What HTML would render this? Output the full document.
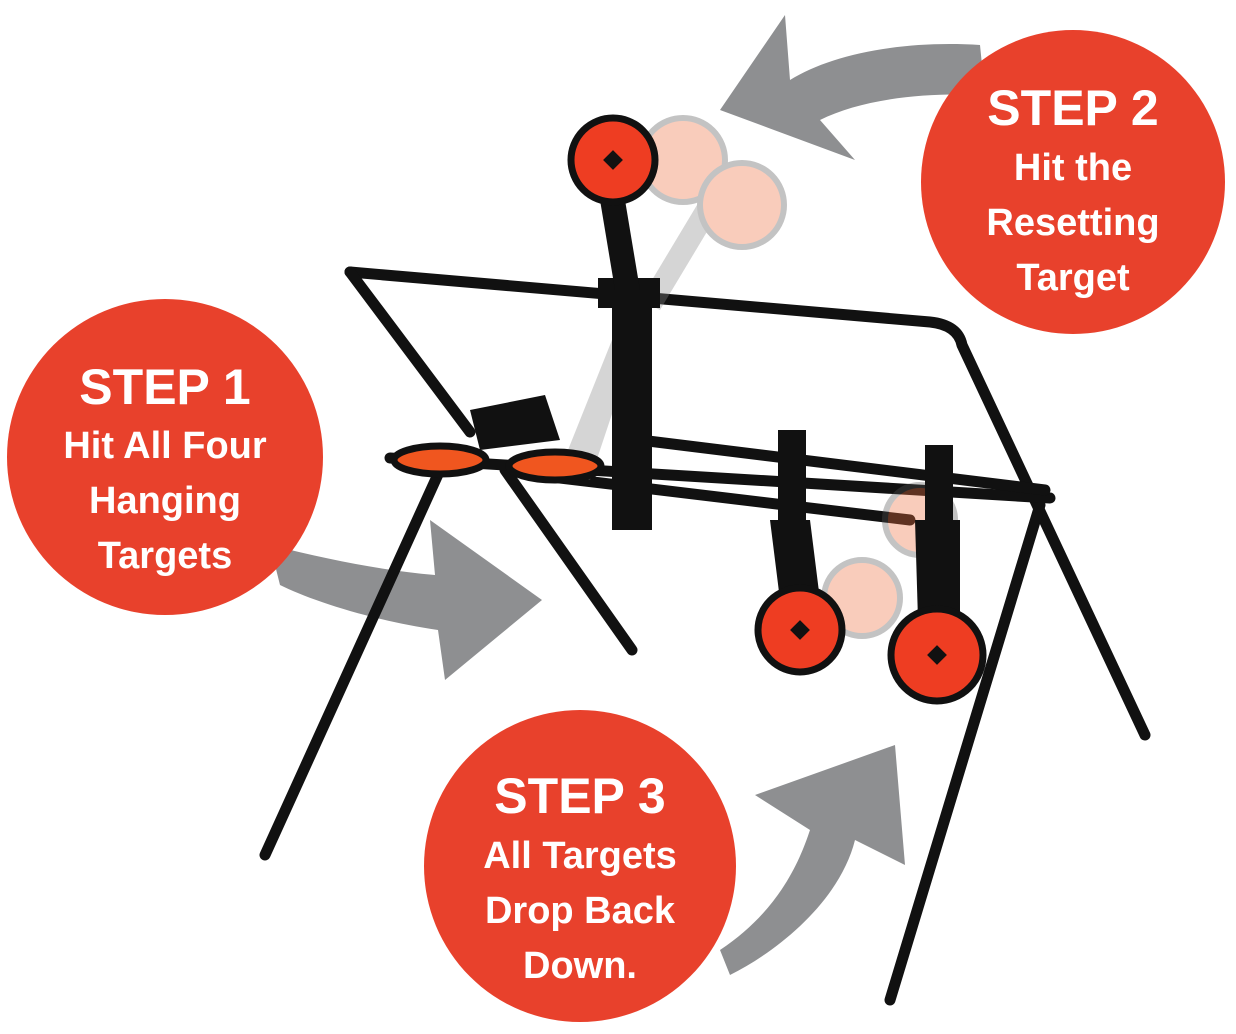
<!DOCTYPE html>
<html><head><meta charset="utf-8"><style>
html,body{margin:0;padding:0;background:#fff;}
svg{display:block}
text{font-family:"Liberation Sans",sans-serif;font-weight:bold;fill:#fff;text-anchor:middle}
</style></head><body>
<svg width="1236" height="1034" viewBox="0 0 1236 1034" xmlns="http://www.w3.org/2000/svg">
<!-- arrows -->
<g fill="#8e8f91">
<path d="M980,45 C900,40 830,55 790,80 L785,15 L720,110 L855,160 L820,120 C860,100 920,92 985,95 Z"/>
<path d="M270,545 C330,560 380,570 435,575 L430,520 L542,600 L445,680 L438,630 C370,620 310,600 280,585 Z"/>
<path d="M720,950 C780,910 800,860 810,830 L755,795 L895,745 L905,865 L855,840 C840,900 780,950 730,975 Z"/>
</g>
<!-- frame -->
<g stroke="#111" stroke-width="11" fill="none" stroke-linecap="round" stroke-linejoin="round">
<path d="M350,272 L930,322 Q958,325 962,345 L1145,735"/>
<path d="M350,272 L470,432"/>
<path d="M440,470 L265,855"/>
<path d="M505,470 L632,650"/>
<path d="M1040,505 L890,1000"/>
<path d="M390,458 L1050,498"/>
<path d="M560,478 L910,520"/>
<path d="M640,440 L1045,490"/>
</g>
<!-- faded pendulum -->
<g opacity="0.35">
<path d="M640,300 L700,200 L720,210 L660,310 Z" fill="#888"/>
<path d="M560,470 L620,320 L640,330 L590,480 Z" fill="#888"/>
<circle cx="683" cy="160" r="42" fill="#f07040" stroke="#555" stroke-width="6"/>
<circle cx="742" cy="205" r="42" fill="#f07040" stroke="#555" stroke-width="6"/>
<circle cx="862" cy="598" r="38" fill="#f07040" stroke="#555" stroke-width="6"/>
<circle cx="920" cy="520" r="35" fill="#f07040" stroke="#555" stroke-width="6"/>
</g>
<!-- center post -->
<rect x="612" y="285" width="40" height="245" fill="#111"/>
<rect x="598" y="278" width="62" height="30" fill="#111"/>
<path d="M600,200 L625,200 L640,290 L615,290 Z" fill="#111"/>
<!-- left bracket -->
<path d="M470,410 L545,395 L560,440 L480,450 Z" fill="#111"/>
<!-- hanging plates -->
<path d="M770,520 L810,520 L820,600 L780,600 Z" fill="#111"/>
<rect x="778" y="430" width="28" height="100" fill="#111"/>
<rect x="925" y="445" width="28" height="100" fill="#111"/>
<path d="M915,520 L960,520 L960,620 L918,620 Z" fill="#111"/>
<!-- targets -->
<g stroke="#111" stroke-width="7">
<circle cx="613" cy="160" r="42" fill="#ee3d22"/>
<circle cx="800" cy="630" r="42" fill="#ee3d22"/>
<circle cx="937" cy="655" r="46" fill="#ee3d22"/>
<ellipse cx="440" cy="460" rx="46" ry="14" fill="#f0561f"/>
<ellipse cx="555" cy="466" rx="46" ry="14" fill="#f0561f"/>
</g>
<g fill="#111">
<rect x="606" y="153" width="14" height="14" transform="rotate(45 613 160)"/>
<rect x="793" y="623" width="14" height="14" transform="rotate(45 800 630)"/>
<rect x="930" y="648" width="14" height="14" transform="rotate(45 937 655)"/>
</g>
<!-- step circles -->
<circle cx="1073" cy="182" r="152" fill="#e8412c"/>
<circle cx="165" cy="457" r="158" fill="#e8412c"/>
<circle cx="580" cy="866" r="156" fill="#e8412c"/>
<text x="1073" y="125" font-size="50">STEP 2</text>
<text x="1073" y="180" font-size="38">Hit the</text>
<text x="1073" y="235" font-size="38">Resetting</text>
<text x="1073" y="290" font-size="38">Target</text>
<text x="165" y="404" font-size="50">STEP 1</text>
<text x="165" y="458" font-size="38">Hit All Four</text>
<text x="165" y="513" font-size="38">Hanging</text>
<text x="165" y="568" font-size="38">Targets</text>
<text x="580" y="813" font-size="50">STEP 3</text>
<text x="580" y="868" font-size="38">All Targets</text>
<text x="580" y="923" font-size="38">Drop Back</text>
<text x="580" y="978" font-size="38">Down.</text>
</svg>
</body></html>
